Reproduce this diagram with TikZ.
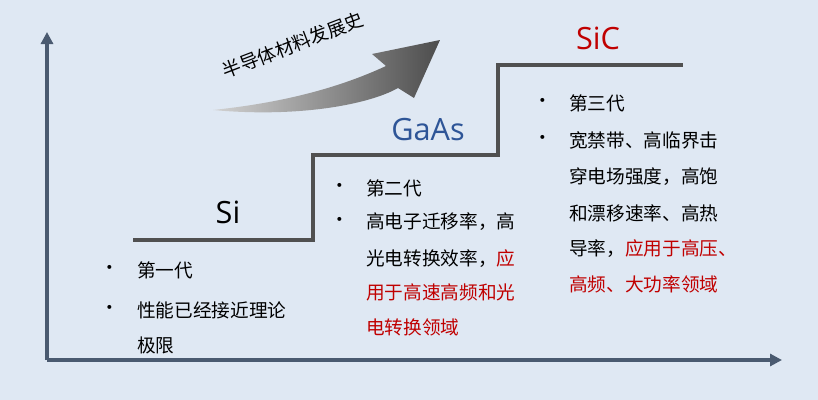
\documentclass[tikz,border=0pt]{standalone}
\usetikzlibrary{arrows.meta}
\usepackage{fontspec}
\setmainfont{Noto Sans CJK SC}
\newfontfamily\lat{Open Sans}
\definecolor{bg}{HTML}{DFE8F3}
\definecolor{axis}{HTML}{4A5A70}
\definecolor{stair}{HTML}{505050}
\definecolor{gablue}{HTML}{2E5597}
\definecolor{sicred}{HTML}{C00000}
\definecolor{hl}{HTML}{C00000}
\begin{document}
\begin{tikzpicture}[x=0.75pt,y=-0.75pt,
  txt/.style={anchor=west,inner sep=0pt,font=\fontsize{14}{16}\selectfont},
  bul/.style={inner sep=0pt,font=\fontsize{14}{16}\selectfont},
  big/.style={inner sep=0pt,font=\lat\fontsize{23}{26}\selectfont}]
\fill[bg] (0,0) rectangle (818,400);
\useasboundingbox (0,0) rectangle (818,400);
\coordinate (o) at (47,360);
\coordinate (ytop) at (47,32);
\coordinate (xend) at (782,360);
\draw[axis,line width=2.5pt,-{Triangle[length=9pt,width=9pt]}] (o) -- (ytop);
\draw[axis,line width=2.5pt,-{Triangle[length=9pt,width=9pt]}] (o) -- (xend);
\draw[stair,line width=3pt] (133,240) -- (313,240) -- (313,155) -- (498,155) -- (498,65) -- (683,65);
% curved arrow
\shade[left color=gray!35,right color=black!70]
 (213,110) .. controls (300,118) and (370,104) .. (398,88)
 -- (414,98) -- (440,40) -- (372,54) -- (386,66)
 .. controls (330,92) and (270,104) .. (213,110) -- cycle;
\node[rotate=21,inner sep=0pt,font=\fontsize{14}{16}\selectfont] (title) at (293,45) {半导体材料发展史};
\node[big] (si) at (228,212) {Si};
\node[big,gablue] (gaas) at (428,130) {GaAs};
\node[big,sicred] (sic) at (598,38) {SiC};
% Si list
\foreach \y in {270,310}{\node[bul] at (110,\y) {•};}
\node[txt] (s1) at (137,270) {第一代};
\node[txt] (s2) at (137,310) {性能已经接近理论};
\node[txt] (s3) at (137,345) {极限};
% GaAs list
\foreach \y in {188,222}{\node[bul] at (340,\y) {•};}
\node[txt] (g1) at (366,188) {第二代};
\node[txt] (g2) at (366,222) {高电子迁移率，高};
\node[txt] (g3) at (366,259) {光电转换效率，\textcolor{hl}{应}};
\node[txt,hl] (g4) at (366,292) {用于高速高频和光};
\node[txt,hl] (g5) at (366,327) {电转换领域};
% SiC list
\foreach \y in {103,140}{\node[bul] at (543,\y) {•};}
\node[txt] (c1) at (569,103) {第三代};
\node[txt] (c2) at (569,140) {宽禁带、高临界击};
\node[txt] (c3) at (569,177) {穿电场强度，高饱};
\node[txt] (c4) at (569,213) {和漂移速率、高热};
\node[txt] (c5) at (569,249) {导率，\textcolor{hl}{应用于高压、}};
\node[txt,hl] (c6) at (569,284) {高频、大功率领域};
\end{tikzpicture}
\end{document}
